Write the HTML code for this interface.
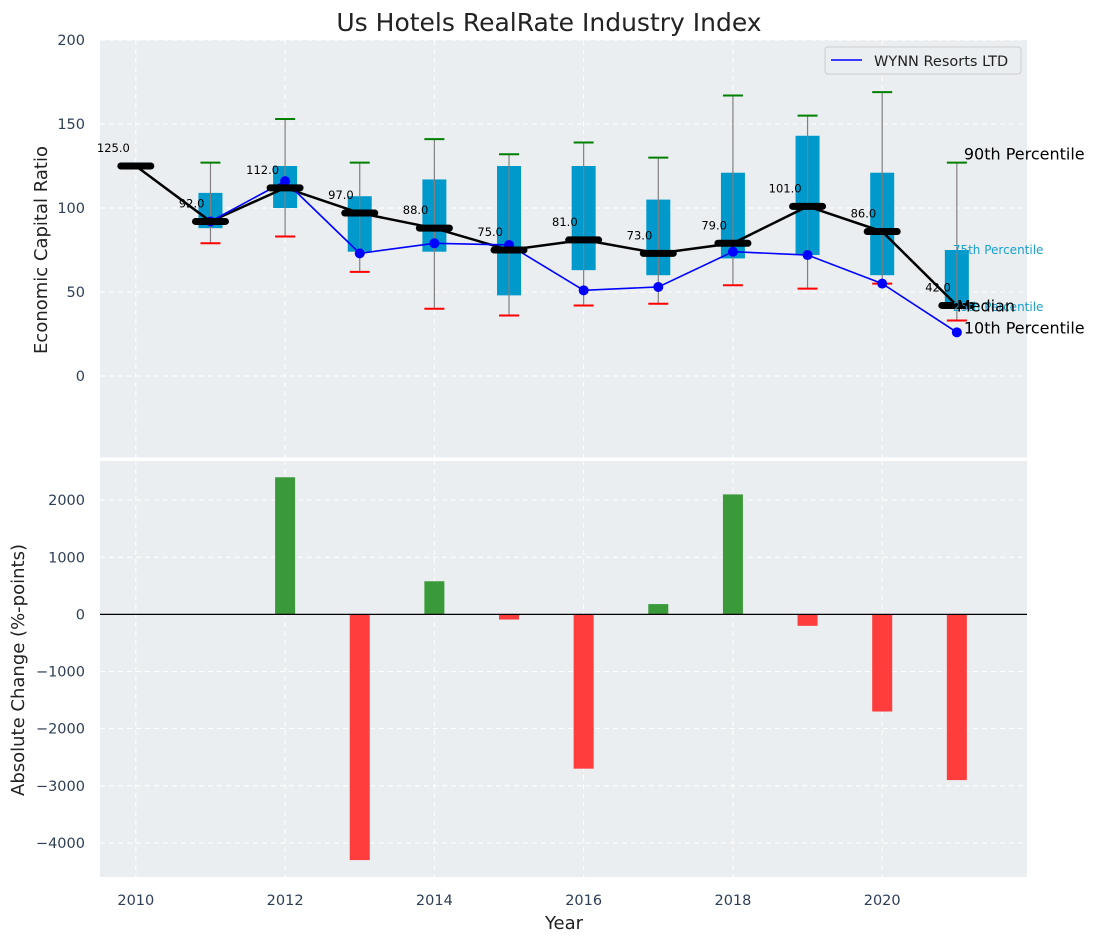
<!DOCTYPE html>
<html><head><meta charset="utf-8">
<style>
body{margin:0;background:#fff;font-family:"Liberation Sans","DejaVu Sans",sans-serif;}
svg text{font-family:"DejaVu Sans","Liberation Sans",sans-serif;}
</style></head>
<body>
<svg id="c" width="1098" height="942" xmlns="http://www.w3.org/2000/svg"></svg>
<script>
const years=[2010,2011,2012,2013,2014,2015,2016,2017,2018,2019,2020,2021];
const medians=[125,92,112,97,88,75,81,73,79,101,86,42];
const q25=[null,88,100,74,74,48,63,60,70,72,60,40];
const q75=[null,109,125,107,117,125,125,105,121,143,121,75];
const p10=[null,79,83,62,40,36,42,43,54,52,55,33];
const p90=[null,127,153,127,141,132,139,130,167,155,169,127];
const wynn=[null,92,116,73,79,78,51,53,74,72,55,26];
const changes=[null,null,2400,-4300,580,-90,-2700,180,2100,-200,-1700,-2900];
const topTicks=[0,50,100,150,200];
const botTicks=[-4000,-3000,-2000,-1000,0,1000,2000];
const xTicks=[2010,2012,2014,2016,2018,2020];

const NS="http://www.w3.org/2000/svg";
const svg=document.getElementById('c');
function el(tag,attrs,parent){const e=document.createElementNS(NS,tag);for(const k in attrs)e.setAttribute(k,attrs[k]);(parent||svg).appendChild(e);return e;}
const L=100,R=1027;
const x=v=>L+(v-2009.52)/(2021.94-2009.52)*(R-L);
const T0=40,T1=460,yT=v=>T1-(v-(-50))/250*(T1-T0);
const B0=460,B1=877,yB=v=>B1-(v-(-4596))/(2702+4596)*(B1-B0);

let e=el('rect',{x:L,y:T0,width:R-L,height:T1-T0,fill:'#eaeef0'});

e=el('rect',{x:L,y:B0+1,width:R-L,height:B1-B0-1,fill:'#eaeef0'});


xTicks.forEach(t=>{
  el('line',{x1:x(t),x2:x(t),y1:T0,y2:T1,stroke:'#fff','stroke-dasharray':'5,4','stroke-width':1});
  el('line',{x1:x(t),x2:x(t),y1:B0,y2:B1,stroke:'#fff','stroke-dasharray':'5,4','stroke-width':1});
  const tx=el('text',{x:x(t),y:905,'text-anchor':'middle','font-size':14.5,fill:'#2e3e55'});tx.textContent=t;
  
});
topTicks.forEach(t=>{
  el('line',{x1:L,x2:R,y1:yT(t),y2:yT(t),stroke:'#fff','stroke-dasharray':'5,4'});
  const tx=el('text',{x:85,y:yT(t)+5,'text-anchor':'end','font-size':14.5,fill:'#2e3e55'});tx.textContent=t;
  
});
botTicks.forEach(t=>{
  el('line',{x1:L,x2:R,y1:yB(t),y2:yB(t),stroke:'#fff','stroke-dasharray':'5,4'});
  const tx=el('text',{x:85,y:yB(t)+5,'text-anchor':'end','font-size':14.5,fill:'#2e3e55'});tx.textContent=(t<0?'\u2212'+(-t):t);
  
});
el('line',{x1:L,x2:R,y1:459,y2:459,stroke:'#fff','stroke-width':3});

years.forEach((yr,i)=>{
  if(q25[i]==null)return;
  const cx=x(yr);
  let b=el('rect',{x:cx-12,y:yT(q75[i]),width:24,height:yT(q25[i])-yT(q75[i]),fill:'#0099cc'});
  
  let w=el('line',{x1:cx,x2:cx,y1:yT(p10[i]),y2:yT(p90[i]),stroke:'#808080','stroke-width':1.2});
  
  let h=el('line',{x1:cx-10,x2:cx+10,y1:yT(p90[i]),y2:yT(p90[i]),stroke:'green','stroke-width':2});
  
  let l=el('line',{x1:cx-10,x2:cx+10,y1:yT(p10[i]),y2:yT(p10[i]),stroke:'red','stroke-width':2});
  
});
let pts=years.map((yr,i)=>x(yr)+','+yT(medians[i])).join(' ');
e=el('polyline',{points:pts,fill:'none',stroke:'#000','stroke-width':2.5});

pts=years.map((yr,i)=>wynn[i]==null?null:x(yr)+','+yT(wynn[i])).filter(p=>p).join(' ');
e=el('polyline',{points:pts,fill:'none',stroke:'blue','stroke-width':1.6});

years.forEach((yr,i)=>{
  if(wynn[i]==null)return;
  const d=el('circle',{cx:x(yr),cy:yT(wynn[i]),r:5,fill:'blue'});
  
});
years.forEach((yr,i)=>{
  const cx=x(yr),cy=yT(medians[i]);
  const m=el('line',{x1:cx-15,x2:cx+15,y1:cy,y2:cy,stroke:'#000','stroke-width':7,'stroke-linecap':'round'});
  
  const t=el('text',{x:cx-6,y:cy-14,'text-anchor':'end','font-size':11.5,fill:'#000'});t.textContent=medians[i].toFixed(1);
  
});
const last=years.length-1,ax=x(years[last]);
[['90th Percentile',ax+7,yT(p90[last])-3,16,'#000'],['75th Percentile',ax-4,yT(q75[last])+4,12,'#1ba0d0'],
 ['25th Percentile',ax-4,yT(q25[last])+2,12,'#1ba0d0'],['Median',ax,yT(medians[last])+6,16,'#000'],
 ['10th Percentile',ax+7,yT(wynn[last])+1,16,'#000']].forEach(a=>{
  const t=el('text',{x:a[1],y:a[2],'font-size':a[3],fill:a[4]});t.textContent=a[0];
  
});

years.forEach((yr,i)=>{
  if(changes[i]==null)return;
  const v=changes[i],y0=yB(0),y1=yB(v);
  const b=el('rect',{x:x(yr)-10,y:Math.min(y0,y1),width:20,height:Math.abs(y1-y0),fill:v>=0?'#3a9a3a':'#ff3d3d'});
  
});
el('line',{x1:L,x2:R,y1:yB(0),y2:yB(0),stroke:'#000','stroke-width':1.2});

const lg=el('g',{});

el('rect',{x:825,y:47,width:196,height:27,rx:3,fill:'#eaeef0',stroke:'#ccc'},lg);
el('line',{x1:831,x2:862,y1:60,y2:60,stroke:'blue','stroke-width':1.6},lg);
e=el('text',{x:874,y:66,'font-size':14.5,fill:'#222'},lg);e.textContent='WYNN Resorts LTD';

e=el('text',{x:549,y:31,'text-anchor':'middle','font-size':25,fill:'#222'});e.textContent='Us Hotels RealRate Industry Index';

e=el('text',{x:564,y:929,'text-anchor':'middle','font-size':18,fill:'#222'});e.textContent='Year';

e=el('text',{x:0,y:0,'text-anchor':'middle','font-size':18,fill:'#222',transform:'translate(47,250) rotate(-90)'});e.textContent='Economic Capital Ratio';

e=el('text',{x:0,y:0,'text-anchor':'middle','font-size':18,fill:'#222',transform:'translate(24,670) rotate(-90)'});e.textContent='Absolute Change (%-points)';

</script>
</body></html>
